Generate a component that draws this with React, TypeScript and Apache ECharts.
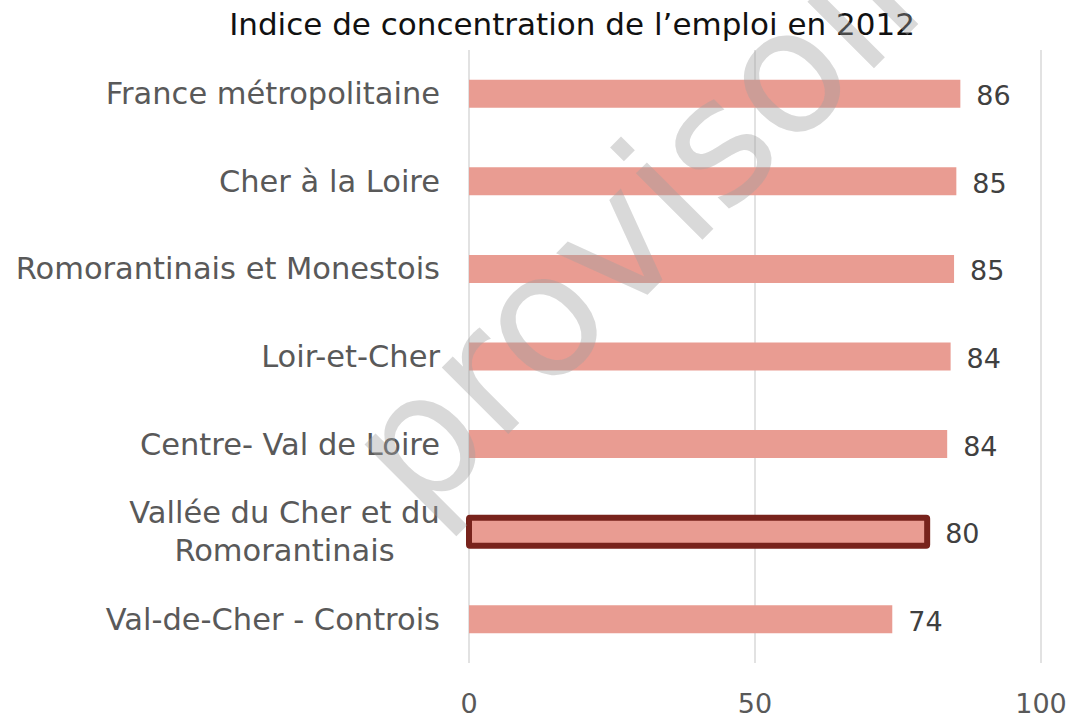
import React, { useEffect, useRef } from "react";
import * as echarts from "echarts";

const categories = [
  "France métropolitaine",
  "Cher à la Loire",
  "Romorantinais et Monestois",
  "Loir-et-Cher",
  "Centre- Val de Loire",
  "Vallée du Cher et du\nRomorantinais",
  "Val-de-Cher - Controis",
];
const values = [85.9, 85.2, 84.8, 84.2, 83.6, 80.1, 74.0];
const labelValues = [86, 85, 85, 84, 84, 80, 74];
const highlighted = "Vallée du Cher et du\nRomorantinais";
const xTicks = [0, 50, 100];
const titleText = "Indice de concentration de l’emploi en 2012";
const watermark = "provisoire";

const FONT = "'Century Gothic', 'URW Gothic', 'DejaVu Sans', sans-serif";
const LABEL_SIZE = 30.5;
const NUM_SIZE = 27;
const BAR_W = 28;

export default function App() {
  const ref = useRef<HTMLDivElement>(null);
  useEffect(() => {
    if (!ref.current) return;
    const chart = echarts.init(ref.current, null, { renderer: "svg" });

    const canvas = document.createElement("canvas");
    const ctx = canvas.getContext("2d")!;
    ctx.font = `${LABEL_SIZE}px ${FONT}`;
    const multiWidth = Math.ceil(
      Math.max(...highlighted.split("\n").map((s) => ctx.measureText(s).width))
    );

    const hiIndex = categories.indexOf(highlighted);

    const option: any = {
      animation: false,
      backgroundColor: "#ffffff",
      title: {
        text: titleText,
        left: 567,
        top: 3,
        textAlign: "center",
        textStyle: {
          fontFamily: FONT,
          fontSize: 31,
          fontWeight: "normal",
          color: "#111111",
        },
      },
      grid: { left: 469, right: 30, top: 50, bottom: 58, containLabel: false },
      xAxis: {
        type: "value",
        min: xTicks[0],
        max: xTicks[xTicks.length - 1],
        interval: 50,
        axisLine: { show: false },
        axisTick: { show: false },
        splitLine: { lineStyle: { color: "#d9d9d9", width: 1.5 } },
        axisLabel: {
          margin: 27,
          fontFamily: FONT,
          fontSize: NUM_SIZE,
          color: "#595959",
        },
      },
      yAxis: {
        type: "category",
        inverse: true,
        data: categories,
        axisLine: { show: false },
        axisTick: { show: false },
        axisLabel: {
          margin: 29,
          fontFamily: FONT,
          fontSize: LABEL_SIZE,
          color: "#595959",
          lineHeight: 38,
          formatter: (v: string) =>
            v.includes("\n")
              ? v
                  .split("\n")
                  .map((s) => `{c|${s}}`)
                  .join("\n")
              : v,
          rich: {
            c: {
              width: multiWidth,
              align: "center",
              fontFamily: FONT,
              fontSize: LABEL_SIZE,
              color: "#595959",
              lineHeight: 38,
            },
          },
        },
      },
      series: [
        {
          type: "bar",
          barWidth: BAR_W,
          data: values.map((v, i) =>
            i === hiIndex ? { value: v, label: { distance: 18 } } : v
          ),
          itemStyle: { color: "#E99C92" },
          label: {
            show: true,
            position: "right",
            distance: 16,
            offset: [0, 2],
            fontFamily: FONT,
            fontSize: NUM_SIZE,
            color: "#404040",
            formatter: (p: any) => String(labelValues[p.dataIndex]),
          },
        },
        {
          type: "custom",
          z: 3,
          encode: { x: 0, y: 1 },
          data: [[values[hiIndex], hiIndex]],
          renderItem: (params: any, api: any) => {
            const v = api.value(0);
            const c = api.value(1);
            const s = api.coord([0, c]);
            const e = api.coord([v, c]);
            return {
              type: "rect",
              shape: {
                x: s[0],
                y: s[1] - BAR_W / 2,
                width: e[0] - s[0],
                height: BAR_W,
                r: 1,
              },
              style: {
                fill: "#E99C92",
                stroke: "#78231C",
                lineWidth: 6,
              },
            };
          },
        },
      ],
      graphic: [
        {
          type: "text",
          x: 378,
          y: 480,
          rotation: Math.PI / 4,
          z: 100,
          silent: true,
          style: {
            text: watermark,
            fontFamily: FONT,
            fontSize: 172,
            fill: "rgba(160,160,160,0.4)",
            textAlign: "left",
            textVerticalAlign: "middle",
          },
        },
      ],
    };
    chart.setOption(option);
    return () => chart.dispose();
  }, []);
  return (
    <div
      ref={ref}
      style={{ position: "absolute", left: 0, top: 0, width: 1071, height: 721 }}
    />
  );
}
